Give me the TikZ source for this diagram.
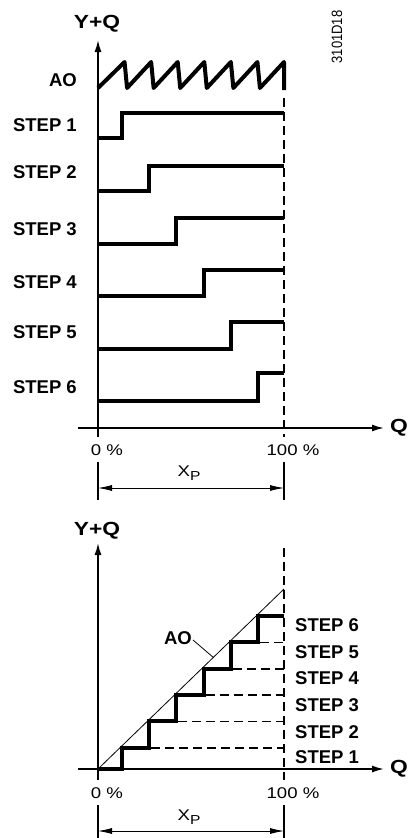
\documentclass[tikz,border=0pt]{standalone}
\usepackage{fontspec}
\setmainfont{Liberation Sans}
\usetikzlibrary{arrows.meta,calc}
\newcommand\hstretch[2]{\scalebox{#1}[1]{#2}}
\begin{document}
\begin{tikzpicture}[x=1pt,y=-1pt,
  thickline/.style={line width=4pt},
  axisline/.style={line width=1.7pt},
  dashline/.style={line width=1.8pt,dash pattern=on 9pt off 5pt},
  thinline/.style={line width=0.8pt},
  axisarrow/.style={-{Latex[length=12pt,width=7pt]}},
  dimarrow/.style={{Latex[length=14pt,width=6pt]}-{Latex[length=14pt,width=6pt]}},
  steplab/.style={font=\fontsize{18.5}{20}\selectfont\bfseries,inner sep=0pt},
  biglab/.style={font=\fontsize{19}{21}\selectfont\bfseries,inner sep=0pt},
  numlab/.style={font=\fontsize{15.5}{17}\selectfont,inner sep=0pt}]
\useasboundingbox (0,0) rectangle (410,838);
\def\w{26.571}
% ---------------- top diagram ----------------
\coordinate (ya1) at (98,437);
\coordinate (yb1) at (98,40);
\coordinate (qa1) at (78,428);
\coordinate (qb1) at (384,428);
\draw[axisline,axisarrow] (ya1) -- (yb1);
\draw[axisline,axisarrow] (qa1) -- (qb1);
\node[biglab] (yq1) at (97,24) {\hstretch{1.2}{Y+Q}};
\node[biglab,anchor=west] (q1) at (390,428) {\hstretch{1.2}{Q}};
\node[font=\fontsize{13}{13}\selectfont,inner sep=0pt,rotate=90] (code) at (337,37) {\scalebox{1}[1.15]{3101D18}};
\coordinate (da1) at (284,98);
\coordinate (db1) at (284,437);
\draw[dashline] (da1) -- (db1);
% sawtooth AO
\draw[thickline,line join=round] (98,88)
  \foreach \i in {1,...,6} { -- ({98+\i*\w},62) -- ({98+\i*\w+2.5},88) }
  -- (284,62) -- (284,90);
\node[steplab,anchor=east] (ao1) at (77,80) {AO};
% steps
\foreach \k/\H/\L in {1/113/138,2/166/191,3/218/244,4/270/296,5/322/348.5,6/373/401}{
  \draw[thickline] (98,\L) -- ({94.8+27.2*\k},\L) -- ({94.8+27.2*\k},\H) -- (284,\H);
}
\node[steplab,anchor=east] (s1) at (77,125) {STEP 1};
\node[steplab,anchor=east] (s2) at (77,172) {STEP 2};
\node[steplab,anchor=east] (s3) at (77,229) {STEP 3};
\node[steplab,anchor=east] (s4) at (77,282) {STEP 4};
\node[steplab,anchor=east] (s5) at (77,332) {STEP 5};
\node[steplab,anchor=east] (s6) at (77,387) {STEP 6};
% scale
\node[numlab] (p0a) at (107,450) {\hstretch{1.2}{0 \%}};
\node[numlab] (p100a) at (293,450) {\hstretch{1.2}{100 \%}};
\coordinate (ta1) at (98,462);
\coordinate (ta2) at (98,500);
\coordinate (tb1) at (284,462);
\coordinate (tb2) at (284,500);
\draw[axisline] (ta1) -- (ta2);
\draw[axisline] (tb1) -- (tb2);
\coordinate (ra1) at (98,488);
\coordinate (rb1) at (284,488);
\draw[thinline,dimarrow] (ra1) -- (rb1);
\node[numlab] (xp1) at (189,473) {\hstretch{1.2}{X\raisebox{-4pt}{\fontsize{13}{13}\selectfont P}}};
% ---------------- bottom diagram ----------------
\coordinate (ya2) at (98,780);
\coordinate (yb2) at (98,543);
\coordinate (qa2) at (78,769);
\coordinate (qb2) at (384,769);
\draw[axisline,axisarrow] (ya2) -- (yb2);
\draw[axisline,axisarrow] (qa2) -- (qb2);
\node[biglab] (yq2) at (97,531) {\hstretch{1.2}{Y+Q}};
\node[biglab,anchor=west] (q2) at (390,769) {\hstretch{1.2}{Q}};
\coordinate (da2) at (284,548);
\coordinate (db2) at (284,780);
\draw[dashline] (da2) -- (db2);
\coordinate (g0) at (98,769);
\coordinate (g1) at (284,589);
\draw[thinline] (g0) -- (g1);
% staircase (corners on the diagonal)
\draw[thickline] (98,769) -- ({94.8+27.2},769)
  \foreach \k in {1,...,5} {
    -- ({94.8+27.2*\k},{771-(27.2*\k-3.2)*0.967742})
    -- ({94.8+27.2*(\k+1)},{771-(27.2*\k-3.2)*0.967742}) }
  -- ({94.8+27.2*6},{771-(27.2*6-3.2)*0.967742})
  -- (284,{771-(27.2*6-3.2)*0.967742});
\foreach \k in {1,...,5}{
  \draw[dashline] ({94.8+27.2*(\k+1)+2},{771-(27.2*\k-3.2)*0.967742}) -- (284,{771-(27.2*\k-3.2)*0.967742});
}
\node[steplab,anchor=west] (t1) at (295,757) {STEP 1};
\node[steplab,anchor=west] (t2) at (295,732) {STEP 2};
\node[steplab,anchor=west] (t3) at (295,705) {STEP 3};
\node[steplab,anchor=west] (t4) at (295,678) {STEP 4};
\node[steplab,anchor=west] (t5) at (295,652) {STEP 5};
\node[steplab,anchor=west] (t6) at (295,625) {STEP 6};
\node[steplab,anchor=east] (ao2) at (192,638) {AO};
\coordinate (aop) at ($(g0)!0.62!(g1)$);
\draw[thinline] ([xshift=1pt,yshift=-2pt]ao2.east) -- (aop);
% scale
\node[numlab] (p0b) at (107,793) {\hstretch{1.2}{0 \%}};
\node[numlab] (p100b) at (293,793) {\hstretch{1.2}{100 \%}};
\coordinate (tc1) at (98,805);
\coordinate (tc2) at (98,838);
\coordinate (td1) at (284,805);
\coordinate (td2) at (284,838);
\draw[axisline] (tc1) -- (tc2);
\draw[axisline] (td1) -- (td2);
\coordinate (rc1) at (98,831);
\coordinate (rd1) at (284,831);
\draw[thinline,dimarrow] (rc1) -- (rd1);
\node[numlab] (xp2) at (189,817) {\hstretch{1.2}{X\raisebox{-4pt}{\fontsize{13}{13}\selectfont P}}};
\end{tikzpicture}
\end{document}
